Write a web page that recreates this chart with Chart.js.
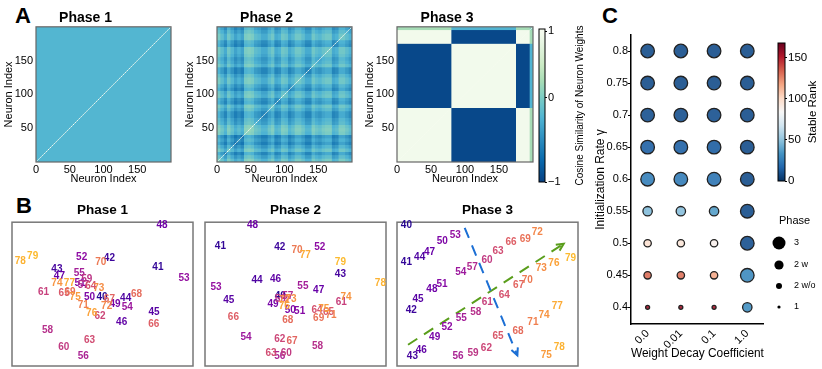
<!DOCTYPE html>
<html>
<head>
<meta charset="utf-8">
<script src="https://cdn.jsdelivr.net/npm/chart.js@4.4.1/dist/chart.umd.min.js"></script>
<style>
  body { margin: 0; width: 822px; height: 369px; background: #fff; position: relative; overflow: hidden; font-family: "Liberation Sans", Arial, sans-serif; }
  canvas { position: absolute; }
  .panel { position: absolute; font-weight: bold; font-size: 22px; line-height: 1; }
</style>
</head>
<body>
<div class="panel" style="left:15px;top:5px">A</div>
<div class="panel" style="left:16px;top:195px">B</div>
<div class="panel" style="left:602px;top:5px">C</div>

<canvas id="heat1" width="176" height="190" style="left:0;top:0"></canvas>
<canvas id="heat2" width="176" height="190" style="left:181px;top:0"></canvas>
<canvas id="heat3" width="177" height="190" style="left:361px;top:0"></canvas>
<canvas id="cbarA" width="60" height="190" style="left:532px;top:0"></canvas>

<canvas id="emb1" width="185" height="173" style="left:10px;top:195px"></canvas>
<canvas id="emb2" width="185" height="173" style="left:203px;top:195px"></canvas>
<canvas id="emb3" width="185" height="173" style="left:395px;top:195px"></canvas>

<canvas id="sweep" width="180" height="369" style="left:592px;top:0"></canvas>
<canvas id="cbarC" width="52" height="369" style="left:770px;top:0"></canvas>

<script>
// ---- panel A : cosine similarity of neuron weights ----
const neuronCount = 200;
const heatXTicks = [0, 50, 100, 150];
const heatYTicks = [50, 100, 150];
const phaseTitles = ['Phase 1', 'Phase 2', 'Phase 3'];

// phase 1 is a flat field around this similarity
const phase1Level = -0.22;
// phase 2: plaid, offsets per block of 5 neurons
const phase2Level = -0.25;
const phase2Profile = [0.15, 0, -0.15, 0.1, -0.05, -0.2, -0.1, -0.2, 0.15, 0.2,
                       0.15, 0, -0.05, -0.15, -0.15, 0, 0.1, -0.15, -0.1, 0.1,
                       0.05, -0.15, -0.05, 0.1, 0.1, 0, -0.15, -0.15, 0.1, 0,
                       -0.05, 0.05, 0.1, 0.1, -0.15, -0.1, 0.1, 0.1, 0, -0.1];
// phase 3: two opposed groups, sign per block of 5 neurons
const phase3Profile = [1, 1, 1, 1, 1, 1, 1, 1, 1, 1, 1, 1, 1, 1, 1, 1,
                       -1, -1, -1, -1, -1, -1, -1, -1, -1, -1, -1, -1, -1, -1, -1, -1, -1, -1, -1,
                       1, 1, 1, 1, 0.25];

// colour bar of panel A: tick values and where they sit along the bar (0 = bottom, 1 = top)
const simTicks = [-1, 0, 1];
const simTickPos = [0, 0.552, 0.984];

// ---- panel B : neuron embeddings ----
const neuronIds = [];
for (let n = 40; n <= 79; n++) neuronIds.push(n);

const embed1 = [[49.7,47.9],[80.6,69.0],[53.8,75.0],[24.8,67.6],[62.8,46.8],[78.5,37.7],[60.6,30.6],[26.2,62.5],[82.9,98.1],[56.9,42.8],
                [42.8,47.9],[37.6,57.6],[38.5,75.7],[95.0,60.9],[63.7,41.0],[37.2,64.6],[39.4,6.9],[39.4,56.5],[19.6,24.8],[41.3,60.0],
                [28.6,13.2],[17.4,51.4],[48.6,34.5],[42.8,17.8],[43.5,55.3],[28.8,50.7],[78.3,28.9],[53.8,46.5],[68.8,49.8],[32.1,51.2],
                [49.0,72.2],[39.4,42.1],[52.3,41.4],[47.9,54.4],[24.8,57.6],[34.9,47.5],[44.0,37.0],[31.7,57.6],[4.6,72.9],[11.4,76.6]];
const embed2 = [[41.6,48.4],[8.5,83.1],[41.3,82.6],[74.8,63.7],[28.7,59.5],[13.1,45.6],[39.0,60.2],[62.8,53.0],[26.3,98.1],[37.6,42.8],
                [47.1,39.1],[52.3,38.0],[63.4,82.6],[6.1,54.9],[22.7,19.7],[54.1,55.3],[41.3,6.7],[45.7,48.4],[62.2,13.7],[41.6,46.1],
                [44.9,9.0],[75.3,44.0],[41.3,18.3],[36.5,8.6],[61.9,38.7],[68.3,37.5],[15.7,34.0],[48.1,17.1],[45.7,31.7],[62.8,32.9],
                [50.8,80.8],[69.6,35.2],[43.8,45.6],[47.5,46.1],[77.9,47.9],[65.6,39.8],[43.8,41.4],[55.4,76.9],[96.9,57.2],[74.8,72.2]];
const embed3 = [[5.2,98.1],[5.2,72.2],[7.9,38.7],[8.5,6.7],[12.5,75.7],[11.6,46.1],[13.4,10.9],[18.0,79.2],[19.3,53.2],[20.8,20.1],
                [25.0,86.8],[24.9,56.7],[27.6,27.1],[32.2,91.2],[35.2,65.3],[35.5,32.9],[33.7,6.9],[41.6,68.8],[43.5,37.5],[42.0,8.6],
                [49.7,73.4],[49.9,44.0],[49.4,12.5],[55.8,79.6],[59.3,49.5],[55.8,20.8],[63.0,86.1],[67.2,56.5],[66.9,24.3],[70.9,87.8],
                [72.0,59.5],[75.1,30.1],[77.5,93.1],[79.7,68.1],[81.2,35.6],[82.5,7.4],[86.7,71.8],[88.6,41.4],[89.7,13.2],[95.9,75.0]];
// learned directions in phase 3 (start, end)
const trendBlue = [[37.4, 96.1], [66.5, 7.4]];
const trendGreen = [[6.1, 14.8], [92.1, 85.0]];

// ---- panel C : stable rank sweep ----
const weightDecay = ['0.0', '0.01', '0.1', '1.0'];
const initRates = [0.8, 0.75, 0.7, 0.65, 0.6, 0.55, 0.5, 0.45, 0.4];
const stableRank = [
  [9, 9, 9, 9],
  [9, 9, 9, 9],
  [10, 10, 10, 9],
  [15, 15, 14, 9],
  [26, 25, 22, 9],
  [47, 48, 37, 9],
  [97, 95, 88, 10],
  [131, 130, 116, 30],
  [155, 155, 153, 32]
];
const phaseGrid = [
  ['3', '3', '3', '3'],
  ['3', '3', '3', '3'],
  ['3', '3', '3', '3'],
  ['3', '3', '3', '3'],
  ['3', '3', '3', '3'],
  ['2 w', '2 w', '2 w', '3'],
  ['2 w/o', '2 w/o', '2 w/o', '3'],
  ['2 w/o', '2 w/o', '2 w/o', '3'],
  ['1', '1', '1', '2 w']
];
const phaseOrder = ['3', '2 w', '2 w/o', '1'];
const rankMax = 168;
const rankTicks = [0, 50, 100, 150];

// ---- colours ----
const GNBU_R = ['#084081','#0868ac','#2b8cbe','#4eb3d3','#7bccc4','#a8ddb5','#ccebc5','#e0f3db','#f7fcf0'];
const RDBU_R = ['#053061','#2166ac','#4393c3','#92c5de','#d1e5f0','#f7f7f7','#fddbc7','#f4a582','#d6604d','#b2182b','#67001f'];
const PLASMA = ['#0d0887','#41049d','#6a00a8','#8f0da4','#b12a90','#cc4778','#e16462','#f2844b','#fca636','#fcce25','#f0f921'];

function hex(c) { return [1, 3, 5].map(k => parseInt(c.slice(k, k + 2), 16)); }
function ramp(stops, t) {
  t = Math.max(0, Math.min(1, t));
  const f = t * (stops.length - 1);
  const i = Math.min(Math.floor(f), stops.length - 2);
  const u = f - i, a = hex(stops[i]), b = hex(stops[i + 1]);
  return a.map((v, k) => Math.round(v + (b[k] - v) * u));
}
const rgb = a => 'rgb(' + a[0] + ',' + a[1] + ',' + a[2] + ')';
const rgba = (a, al) => 'rgba(' + a[0] + ',' + a[1] + ',' + a[2] + ',' + al + ')';
const neuronColor = n => rgb(ramp(PLASMA, 0.05 + 0.8 * (n - 40) / 39));
// bar position -> similarity value (piecewise between the ticks)
function simAtPos(p) {
  if (p <= simTickPos[1]) return simTicks[0] + (simTicks[1] - simTicks[0]) * p / simTickPos[1];
  return simTicks[1] + (simTicks[2] - simTicks[1]) * (p - simTickPos[1]) / (simTickPos[2] - simTickPos[1]);
}

Chart.defaults.font.family = '"Liberation Sans", Arial, sans-serif';
Chart.defaults.color = '#000';
Chart.defaults.animation = false;
Chart.defaults.responsive = false;
Chart.defaults.events = [];
Chart.defaults.plugins.legend.display = false;
Chart.defaults.plugins.tooltip.enabled = false;

// ---------- panel A ----------
function cellValue(phase, i, j) {
  if (i === j) return 1;
  const bi = Math.floor(i / 5), bj = Math.floor(j / 5);
  if (phase === 0) return phase1Level;
  if (phase === 1) return phase2Level + phase2Profile[bi] + phase2Profile[bj];
  return 0.95 * phase3Profile[bi] * phase3Profile[bj];
}

const heatPlugin = {
  id: 'heat',
  beforeDatasetsDraw(chart, args, opts) {
    const n = neuronCount;
    const off = document.createElement('canvas');
    off.width = n; off.height = n;
    const octx = off.getContext('2d');
    const img = octx.createImageData(n, n);
    for (let r = 0; r < n; r++) {
      for (let c = 0; c < n; c++) {
        const col = ramp(GNBU_R, (cellValue(opts.phase, c, n - 1 - r) + 1) / 2);
        const k = (r * n + c) * 4;
        img.data[k] = col[0]; img.data[k + 1] = col[1]; img.data[k + 2] = col[2]; img.data[k + 3] = 255;
      }
    }
    octx.putImageData(img, 0, 0);
    const { x, y } = chart.scales;
    const x0 = x.getPixelForValue(0), x1 = x.getPixelForValue(n);
    const y0 = y.getPixelForValue(n), y1 = y.getPixelForValue(0);
    const ctx = chart.ctx;
    ctx.save();
    ctx.drawImage(off, x0, y0, x1 - x0, y1 - y0);
    ctx.strokeStyle = '#666';
    ctx.lineWidth = 1.2;
    ctx.strokeRect(x0, y0, x1 - x0, y1 - y0);
    ctx.restore();
  }
};

function heatChart(id, phase) {
  return new Chart(document.getElementById(id), {
    type: 'scatter',
    data: { datasets: [{ data: [] }] },
    options: {
      layout: { padding: { right: 5 } },
      plugins: {
        title: { display: true, text: phaseTitles[phase], font: { size: 14, weight: 'bold' }, padding: { top: 10, bottom: 0 }, color: '#000' },
        heat: { phase: phase }
      },
      scales: {
        x: {
          type: 'linear', min: 0, max: neuronCount,
          grid: { display: false, drawTicks: false }, border: { display: false },
          ticks: { stepSize: 50, maxRotation: 0, padding: 1, font: { size: 11 }, callback: v => heatXTicks.includes(v) ? v : '' },
          title: { display: true, text: 'Neuron Index', font: { size: 11 }, padding: { top: 0, bottom: 4 } },
          afterFit(s) { s.height = 28; }
        },
        y: {
          type: 'linear', min: 0, max: neuronCount,
          grid: { display: false, drawTicks: false }, border: { display: false },
          ticks: { stepSize: 50, padding: 3, font: { size: 11 }, callback: v => heatYTicks.includes(v) ? v : '' },
          title: { display: true, text: 'Neuron Index', font: { size: 11 }, padding: { top: 2, bottom: 0 } },
          afterFit(s) { s.width = 36; }
        }
      }
    },
    plugins: [heatPlugin]
  });
}
heatChart('heat1', 0);
heatChart('heat2', 1);
heatChart('heat3', 2);

// colour bars share this
const gradientBar = {
  id: 'gradbar',
  beforeDatasetsDraw(chart, args, opts) {
    const { ctx, chartArea: a } = chart;
    const g = ctx.createLinearGradient(0, a.bottom, 0, a.top);
    for (let s = 0; s <= 40; s++) g.addColorStop(s / 40, rgb(ramp(opts.stops, opts.tAt(s / 40))));
    ctx.save();
    ctx.fillStyle = g;
    ctx.fillRect(a.left, a.top, a.right - a.left, a.bottom - a.top);
    ctx.strokeStyle = '#000';
    ctx.lineWidth = 1;
    ctx.strokeRect(a.left, a.top, a.right - a.left, a.bottom - a.top);
    ctx.translate(opts.labelX, (a.top + a.bottom) / 2);
    ctx.rotate(-Math.PI / 2);
    ctx.font = opts.labelSize + 'px "Liberation Sans", Arial, sans-serif';
    ctx.fillStyle = '#000';
    ctx.textAlign = 'center';
    ctx.textBaseline = 'middle';
    ctx.fillText(opts.label, 0, 0);
    ctx.restore();
  }
};

new Chart(document.getElementById('cbarA'), {
  type: 'scatter',
  data: { datasets: [{ data: [] }] },
  options: {
    layout: { padding: { left: 7, right: 17, top: 29, bottom: 8 } },
    plugins: { gradbar: { stops: GNBU_R, tAt: p => (simAtPos(p) + 1) / 2, label: 'Cosine Similarity of Neuron Weights', labelX: 48, labelSize: 10 } },
    scales: {
      x: { display: false, min: 0, max: 1 },
      y: {
        position: 'right', min: 0, max: 1,
        grid: { drawOnChartArea: false, tickLength: 2, color: '#000' }, border: { display: false },
        afterBuildTicks(s) { s.ticks = simTickPos.map(v => ({ value: v })); },
        ticks: { padding: 1, font: { size: 11 }, callback: (v, i) => simTicks[i] < 0 ? '\u2212' + Math.abs(simTicks[i]) : String(simTicks[i]) },
        afterFit(s) { s.width = 30; }
      }
    }
  },
  plugins: [gradientBar]
});

// ---------- panel B ----------
const boxPlugin = {
  id: 'box',
  beforeDraw(chart) {
    const { ctx, chartArea: a } = chart;
    ctx.save();
    ctx.strokeStyle = '#777';
    ctx.lineWidth = 1.5;
    ctx.strokeRect(a.left, a.top, a.right - a.left, a.bottom - a.top);
    ctx.restore();
  }
};

const tagPlugin = {
  id: 'tags',
  afterDatasetsDraw(chart) {
    const ctx = chart.ctx;
    const meta = chart.getDatasetMeta(0);
    ctx.save();
    ctx.font = 'bold 10px "Liberation Sans", Arial, sans-serif';
    ctx.textAlign = 'center';
    ctx.textBaseline = 'middle';
    meta.data.forEach((pt, k) => {
      ctx.fillStyle = neuronColor(neuronIds[k]);
      ctx.fillText(String(neuronIds[k]), pt.x, pt.y);
    });
    ctx.restore();
  }
};

const arrowPlugin = {
  id: 'arrowheads',
  afterDatasetsDraw(chart) {
    const ctx = chart.ctx;
    chart.data.datasets.forEach((ds, i) => {
      if (!ds.arrow) return;
      const pts = chart.getDatasetMeta(i).data;
      const p = pts[pts.length - 2], q = pts[pts.length - 1];
      const ang = Math.atan2(q.y - p.y, q.x - p.x);
      ctx.save();
      ctx.strokeStyle = ds.borderColor;
      ctx.lineWidth = 2;
      ctx.beginPath();
      ctx.moveTo(q.x - 8 * Math.cos(ang - 0.45), q.y - 8 * Math.sin(ang - 0.45));
      ctx.lineTo(q.x, q.y);
      ctx.lineTo(q.x - 8 * Math.cos(ang + 0.45), q.y - 8 * Math.sin(ang + 0.45));
      ctx.stroke();
      ctx.restore();
    });
  }
};

function embedChart(id, title, pos, arrows) {
  const datasets = [{ data: pos.map(p => ({ x: p[0], y: p[1] })), pointRadius: 0 }];
  (arrows || []).forEach(a => datasets.push({
    data: a.pts.map(p => ({ x: p[0], y: p[1] })), showLine: true, arrow: true,
    borderColor: a.color, borderWidth: 2, borderDash: [11, 8], pointRadius: 0
  }));
  return new Chart(document.getElementById(id), {
    type: 'scatter',
    data: { datasets },
    options: {
      layout: { padding: { left: 2, right: 2, bottom: 2 } },
      plugins: { title: { display: true, text: title, font: { size: 13.5, weight: 'bold' }, padding: { top: 7, bottom: 4 }, color: '#000' } },
      scales: { x: { display: false, min: 0, max: 100 }, y: { display: false, min: 0, max: 100 } }
    },
    plugins: [boxPlugin, tagPlugin, arrowPlugin]
  });
}
embedChart('emb1', phaseTitles[0], embed1);
embedChart('emb2', phaseTitles[1], embed2);
embedChart('emb3', phaseTitles[2], embed3, [
  { pts: trendBlue, color: '#1c6fd4' },
  { pts: trendGreen, color: '#5a9e1c' }
]);

// ---------- panel C ----------
const phaseRadius = { '3': 6.8, '2 w': 4.7, '2 w/o': 3.7, '1': 2.0 };
const sweepPoints = [];
initRates.forEach((r, i) => weightDecay.forEach((w, j) => {
  sweepPoints.push({ x: w, y: r, rank: stableRank[i][j], phase: phaseGrid[i][j] });
}));

new Chart(document.getElementById('sweep'), {
  type: 'scatter',
  data: {
    datasets: [{
      data: sweepPoints,
      pointRadius: c => phaseRadius[c.raw.phase],
      backgroundColor: c => rgba(ramp(RDBU_R, c.raw.rank / rankMax), 0.9),
      borderColor: '#222',
      borderWidth: 1.3
    }]
  },
  options: {
    clip: false,
    layout: { padding: { top: 35, right: 6 } },
    scales: {
      x: {
        type: 'category', labels: weightDecay, offset: true,
        grid: { display: false, drawTicks: false }, border: { color: '#000', width: 1.5 },
        ticks: { minRotation: 45, maxRotation: 45, padding: 3, font: { size: 11 } },
        title: { display: true, text: 'Weight Decay Coefficient', font: { size: 12 }, padding: { top: 0, bottom: 8 } },
        afterFit(s) { s.height = 45; }
      },
      y: {
        min: 0.374, max: 0.825,
        grid: { drawOnChartArea: false, tickLength: 3, color: '#000' }, border: { color: '#000', width: 1.5 },
        ticks: { stepSize: 0.05, includeBounds: false, padding: 0, font: { size: 11 }, callback: v => String(+v.toFixed(2)) },
        title: { display: true, text: 'Initialization Rate \u03b3', font: { size: 12 }, padding: { top: 1, bottom: 0 } },
        afterFit(s) { s.width = 39; }
      }
    }
  }
});

const phaseLegendPlugin = {
  id: 'phaseLegend',
  afterDraw(chart) {
    const ctx = chart.ctx;
    const legendRadius = { '3': 6.5, '2 w': 4.6, '2 w/o': 3.0, '1': 1.6 };
    const rowsY = [243, 265, 286, 307];
    ctx.save();
    ctx.fillStyle = '#000';
    ctx.font = '11px "Liberation Sans", Arial, sans-serif';
    ctx.textAlign = 'left';
    ctx.textBaseline = 'middle';
    ctx.fillText('Phase', 9, 221);
    ctx.font = '9px "Liberation Sans", Arial, sans-serif';
    phaseOrder.forEach((p, k) => {
      ctx.beginPath();
      ctx.arc(9, rowsY[k], legendRadius[p], 0, Math.PI * 2);
      ctx.fill();
      ctx.fillText(p, 24, rowsY[k]);
    });
    ctx.restore();
  }
};

new Chart(document.getElementById('cbarC'), {
  type: 'scatter',
  data: { datasets: [{ data: [] }] },
  options: {
    layout: { padding: { left: 8, right: 7, top: 43, bottom: 188 } },
    plugins: { gradbar: { stops: RDBU_R, tAt: p => p, label: 'Stable Rank', labelX: 43, labelSize: 11.5 } },
    scales: {
      x: { display: false, min: 0, max: 1 },
      y: {
        position: 'right', min: 0, max: rankMax,
        grid: { drawOnChartArea: false, tickLength: 2, color: '#000' }, border: { display: false },
        ticks: { stepSize: 50, includeBounds: false, padding: 1, font: { size: 11.5 }, callback: v => rankTicks.includes(v) ? v : '' },
        afterFit(s) { s.width = 30; }
      }
    }
  },
  plugins: [gradientBar, phaseLegendPlugin]
});
</script>
</body>
</html>
